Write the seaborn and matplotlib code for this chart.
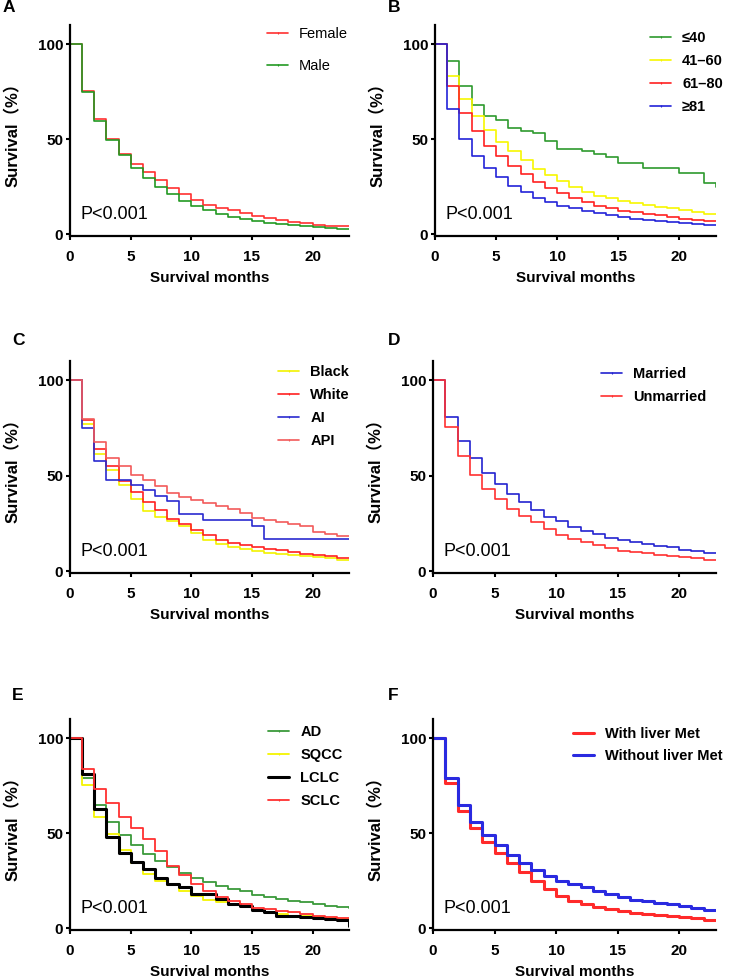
import numpy as np
import pandas as pd
import seaborn as sns
import matplotlib.pyplot as plt
from matplotlib.lines import Line2D

# survival (%) at months 0..23, value k holds on [k, k+1)
months = list(range(24))

# A - sex
female = [100, 75.5, 60.5, 50, 42, 37, 32.5, 28.5, 24.5, 21, 18, 15.5, 13.5, 12.5, 11, 9.5, 8.5, 7.5, 6.5, 6, 5, 4.5, 4, 4]
male = [100, 75, 59.5, 49.5, 41.5, 35, 29.5, 25, 21, 17.5, 15, 12.5, 10.5, 9, 8, 7, 6, 5.5, 5, 4, 3.5, 3, 2.5, 2.5]

# B - age
age_le40 = [100, 91, 78, 68, 62, 60, 56, 54.5, 53, 49, 45, 45, 43.5, 42, 40.5, 37.5, 37.5, 35, 35, 35, 32, 32, 27, 25]
age_41_60 = [100, 83, 71, 62, 55, 48.5, 43.5, 39, 34.5, 31, 28, 25, 22, 20, 19, 17.5, 16.5, 15.5, 14, 13.5, 12.5, 11.5, 10.5, 10.5]
age_61_80 = [100, 78, 63.5, 54, 46.5, 41, 36, 31.5, 27.5, 24.5, 21.5, 19, 17, 15, 13.5, 12, 11.5, 10.5, 10, 9, 8, 7.5, 7, 7]
age_ge81 = [100, 66, 50, 41, 35, 30, 25.5, 22, 19, 17, 15, 13.5, 12, 11, 10, 9, 8, 7.5, 7, 6.5, 6, 5.5, 5, 5]

# C - race
race_black = [100, 77, 61.5, 53, 45, 38, 31.5, 28.5, 26, 23.5, 20, 16.5, 14, 12.5, 11.5, 10.5, 9.5, 9, 8.5, 8, 7.5, 7, 6, 6]
race_white = [100, 79, 64, 55, 47, 41.5, 36, 32, 27.5, 24.5, 21.5, 19, 16.5, 14.5, 13.5, 12.5, 11.5, 11, 10, 9, 8.5, 8, 7, 7]
race_ai = [100, 75, 57.5, 47.5, 47.5, 45, 42.5, 39.5, 36.5, 30, 30, 27, 27, 27, 27, 23.5, 17, 17, 17, 17, 17, 17, 17, 17]
race_api = [100, 79.5, 67.5, 59, 55, 50.5, 47.5, 44.5, 41, 39, 37, 35.5, 34, 32.5, 30.5, 28, 27, 25.5, 24.5, 23.5, 20.5, 19.5, 18.5, 18.5]

# D - marital status
married = [100, 80.5, 68, 59, 51.5, 45.5, 40.5, 36, 32, 28.5, 26, 23, 21, 19.5, 17.5, 16.5, 15, 14, 13, 12.5, 11, 10.5, 9.5, 9.5]
unmarried = [100, 75.5, 60, 50.5, 43, 37.5, 32.5, 29, 25.5, 22, 19, 17, 15, 13.5, 12, 10.5, 10, 9.5, 8.5, 8, 7.5, 7, 6, 6]

# E - histology
hist_ad = [100, 79, 65, 56, 49, 43.5, 39, 35.5, 32, 29, 26.5, 24, 22, 20.5, 19.5, 17.5, 16.5, 15.5, 14.5, 13.5, 12.5, 11.5, 11, 10.5]
hist_sqcc = [100, 75.5, 58.5, 49.5, 41, 34.5, 28.5, 25, 22.5, 19.5, 17, 15, 13.5, 12.5, 11.5, 9.5, 8.5, 7.5, 6.5, 6.5, 6, 5.5, 5, 5]
hist_lclc = [100, 81, 62.5, 48, 39.5, 35, 31, 26.5, 23, 21.5, 18, 18, 15.5, 12.5, 11.5, 9.5, 8.5, 6.5, 6.5, 6, 5.5, 5, 4, 1]
hist_sclc = [100, 83.5, 73, 66, 58.5, 52.5, 47, 40.5, 32.5, 28, 23, 19.5, 16.5, 14.5, 12.5, 10.5, 10, 9, 8.5, 7.5, 6.5, 6, 5.5, 5.5]

# F - liver metastasis
with_liver = [100, 76.5, 61.5, 52.5, 45.5, 39.5, 34.5, 29.5, 25, 20.5, 17, 14, 12.5, 11, 10, 9, 8, 7.5, 7, 6.5, 6, 5.5, 4.5, 4.5]
without_liver = [100, 79, 64.5, 56, 49, 43.5, 38.5, 34.5, 30.5, 27.5, 25, 23, 21.5, 19.5, 18, 16.5, 15, 14, 13, 12.5, 11.5, 10.5, 9.5, 9.5]

sns.set_style('ticks')
plt.rcParams['font.family'] = ['Liberation Sans', 'Noto Sans CJK SC', 'DejaVu Sans']
plt.rcParams.update({'text.color': 'black', 'axes.labelcolor': 'black',
                     'xtick.color': 'black', 'ytick.color': 'black'})

W, H = 732, 977
fig = plt.figure(figsize=(W / 100, H / 100), dpi=100)


def make_ax(left, right, top, bottom):
    return fig.add_axes([left / W, 1 - bottom / H, (right - left) / W, (bottom - top) / H])


def km_panel(ax, curves, labels, colors, widths, leg_xy, leg_space, leg_bold=True):
    df = pd.DataFrame({
        'month': months * len(curves),
        'survival': sum(curves, []),
        'group': np.repeat(labels, len(months)),
    })
    for lab, col, lw in zip(labels, colors, widths):
        sns.lineplot(data=df[df['group'] == lab], x='month', y='survival', color=col, lw=lw,
                     drawstyle='steps-post', estimator=None, ax=ax, legend=False)
    ax.set_xlim(0, 23)
    ax.set_ylim(-1, 110)
    ax.set_xticks([0, 5, 10, 15, 20])
    ax.set_yticks([0, 50, 100])
    sns.despine(ax=ax)
    for s in ['left', 'bottom']:
        ax.spines[s].set_linewidth(1.6)
        ax.spines[s].set_color('black')
    ax.tick_params(direction='out', length=3, width=1.5, labelsize=11)
    ax.tick_params(axis='x', pad=7)
    ax.tick_params(axis='y', pad=2)
    for t in ax.get_xticklabels() + ax.get_yticklabels():
        t.set_fontweight('bold')
    ax.set_xlabel('Survival months', fontsize=11, fontweight='bold', labelpad=5)
    ax.set_ylabel('Survival（%）', fontsize=12, fontweight='bold', labelpad=12)
    ax.text(0.038, 0.08, 'P<0.001', transform=ax.transAxes, fontsize=13, va='baseline')
    handles = [Line2D([], [], color=c, lw=lw, marker='|', markersize=2, markeredgewidth=0.8)
               for c, lw in zip(colors, widths)]
    ax.legend(handles, labels, loc='upper left', bbox_to_anchor=leg_xy, frameon=False,
              borderpad=0, borderaxespad=0, handlelength=1.45, handletextpad=0.75,
              labelspacing=leg_space,
              prop={'size': 10.5, 'weight': 'bold' if leg_bold else 'normal'})


axA = make_ax(70, 349, 25, 236)
km_panel(axA, [female, male], ['Female', 'Male'], ['#ff3030', '#229922'], [1.2, 1.2],
         (0.706, 0.99), 1.25, leg_bold=False)

axB = make_ax(435, 716, 25, 236)
km_panel(axB, [age_le40, age_41_60, age_61_80, age_ge81], ['≤40', '41–60', '61–80', '≥81'],
         ['#2e9a2e', '#f7f700', '#ff2020', '#2222d8'], [1.2] * 4, (0.765, 0.97), 0.62)

axC = make_ax(70, 349, 361, 573)
km_panel(axC, [race_black, race_white, race_ai, race_api], ['Black', 'White', 'AI', 'API'],
         ['#f2f200', '#ff2020', '#2a2ad0', '#f25a5a'], [1.2] * 4, (0.746, 0.98), 0.62)

axD = make_ax(433, 716, 361, 573)
km_panel(axD, [married, unmarried], ['Married', 'Unmarried'], ['#2222d0', '#ff3030'], [1.2, 1.2],
         (0.594, 0.97), 0.62)

axE = make_ax(70, 349, 719, 930)
km_panel(axE, [hist_ad, hist_sqcc, hist_lclc, hist_sclc], ['AD', 'SQCC', 'LCLC', 'SCLC'],
         ['#3a9a3a', '#f5f500', '#000000', '#ff3030'], [1.3, 1.3, 2.2, 1.3], (0.71, 0.97), 0.62)

axF = make_ax(433, 716, 719, 930)
km_panel(axF, [with_liver, without_liver], ['With liver Met', 'Without liver Met'],
         ['#ff2a2a', '#2a2ae0'], [2.2, 2.2], (0.495, 0.96), 0.55)

for lab, x, y in [('A', 3, 8), ('B', 388, 8), ('C', 12, 340), ('D', 388, 340), ('E', 12, 695), ('F', 388, 695)]:
    fig.text(x / W, 1 - y / H, lab, fontsize=12.5, fontweight='bold', va='center', ha='left')

fig.savefig('out.png', dpi=100)
